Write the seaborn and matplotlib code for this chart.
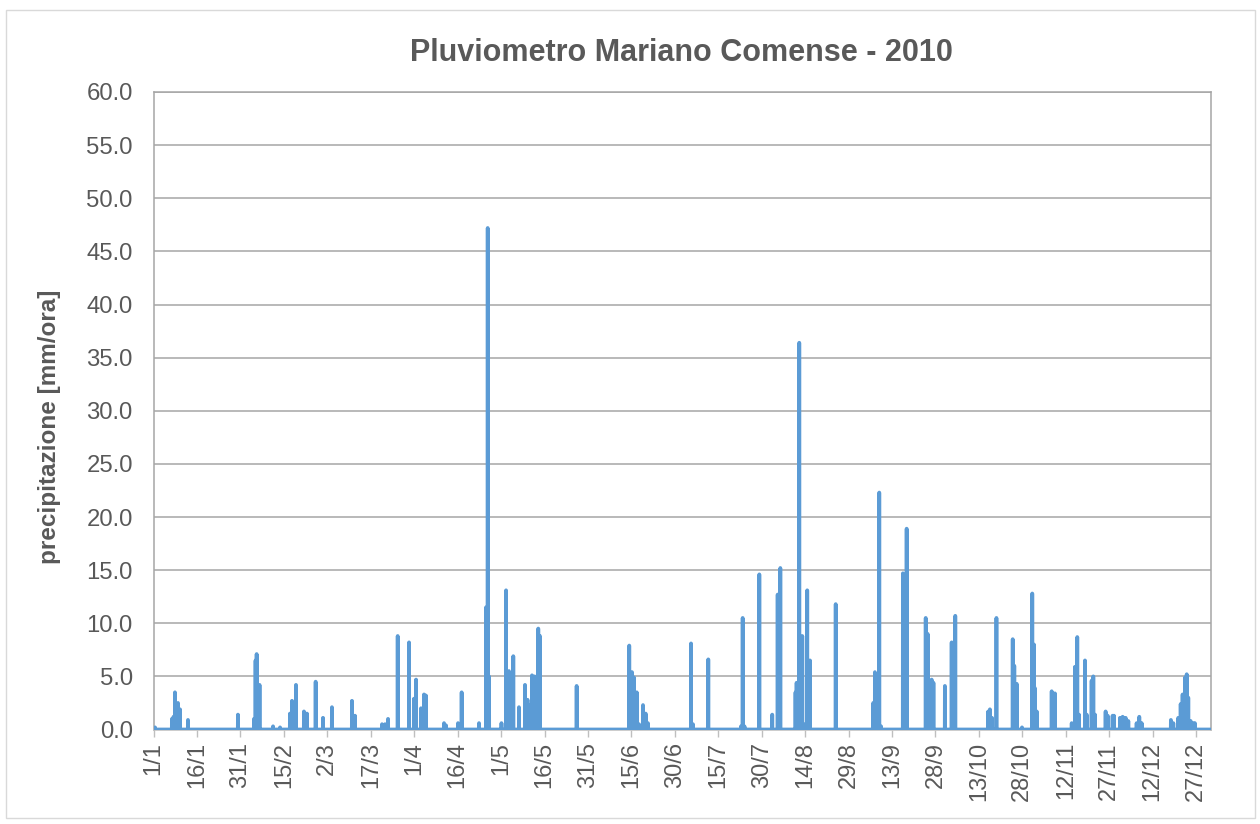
import numpy as np
import pandas as pd
import matplotlib
matplotlib.use("Agg")
import matplotlib.pyplot as plt
from matplotlib.patches import Rectangle
from matplotlib.ticker import FormatStrFormatter
import seaborn as sns

# ---- data: rain events (day of year, 0 = 1 Jan 00:00) and hourly intensity [mm/ora]
event_day = [
    0.48, 6.35, 6.87, 7.39, 8.43, 9.12, 11.88, 29.14, 34.67, 35.19, 35.60, 36.57,
    41.23, 43.65, 47.10, 47.79, 49.17, 51.93, 52.97, 55.97, 58.49, 61.60, 68.51,
    69.54, 78.87, 79.90, 80.94, 84.29, 88.19, 89.92, 90.61, 92.33, 93.37, 94.06,
    100.28, 100.97, 105.11, 106.39, 112.36, 114.78, 115.37, 115.82, 120.13,
    121.69, 122.72, 123.65, 124.21, 126.17, 128.25, 129.11, 129.97, 130.66,
    131.53, 132.84, 133.43, 146.10, 164.26, 165.19, 165.88, 166.82, 167.61,
    168.99, 169.92, 170.72, 185.57, 186.26, 191.54, 202.83, 203.42, 204.04,
    209.15, 213.64, 215.50, 216.40, 221.65, 222.06, 222.96, 224.00, 224.59,
    225.72, 226.66, 235.53, 248.52, 249.10, 250.59, 251.20, 258.76, 260.03,
    266.61, 267.30, 268.68, 269.30, 273.27, 275.59, 276.83, 288.22, 288.81,
    289.50, 291.06, 296.65, 297.20, 298.03, 299.86, 303.42, 304.01, 304.35,
    304.94, 310.12, 311.26, 317.03, 318.16, 318.96, 319.55, 321.62, 322.20,
    323.93, 324.48, 325.07, 328.76, 329.45, 331.18, 331.63, 333.70, 334.63,
    335.67, 336.57, 339.47, 340.36, 341.19, 351.31, 352.11, 353.83, 354.66,
    355.35, 356.15, 356.73, 357.29, 358.12, 359.01, 359.60,
]
event_mm = [
    0.2, 1.0, 1.2, 3.5, 2.5, 1.9, 0.9, 1.4, 1.0, 6.5, 7.1, 4.2,
    0.3, 0.2, 1.5, 2.7, 4.2, 1.7, 1.5, 4.5, 1.1, 2.1, 2.7,
    1.3, 0.5, 0.5, 1.0, 8.8, 8.2, 2.9, 4.7, 2.0, 3.3, 3.2,
    0.6, 0.4, 0.6, 3.5, 0.6, 11.5, 47.2, 5.0, 0.6,
    13.1, 5.5, 4.8, 6.9, 2.1, 4.2, 2.8, 2.3, 5.1,
    5.0, 9.5, 8.8, 4.1, 7.9, 5.4, 4.9, 3.5, 0.5,
    2.3, 1.5, 0.6, 8.1, 0.5, 6.6, 0.3, 10.5, 0.3,
    14.6, 1.4, 12.7, 15.2, 3.5, 4.4, 36.4, 8.8, 0.5,
    13.1, 6.5, 11.8, 2.5, 5.4, 22.3, 0.3, 14.7, 18.9,
    10.5, 9.0, 4.7, 4.4, 4.1, 8.2, 10.7, 1.7, 1.9,
    1.1, 10.5, 8.5, 6.0, 4.3, 0.2, 12.8, 8.0, 3.9,
    1.7, 3.6, 3.4, 0.6, 5.9, 8.7, 1.4, 6.5, 1.4,
    4.6, 5.0, 1.4, 1.7, 1.3, 1.3, 1.3, 1.1, 1.2,
    1.1, 0.8, 0.6, 1.2, 0.6, 0.9, 0.6, 1.1, 2.4,
    3.3, 4.9, 5.2, 3.0, 0.8, 0.6, 0.6,
]
tick_days = list(range(0, 361, 15))
tick_labels = ["1/1", "16/1", "31/1", "15/2", "2/3", "17/3", "1/4", "16/4", "1/5",
               "16/5", "31/5", "15/6", "30/6", "15/7", "30/7", "14/8", "29/8",
               "13/9", "28/9", "13/10", "28/10", "12/11", "27/11", "12/12", "27/12"]
title = "Pluviometro Mariano Comense - 2010"
ylabel = "precipitazione [mm/ora]"

# ---- hourly series for the year (no rain = 0)
hours_in_year = 365 * 24
precip = np.zeros(hours_in_year)
idx = np.clip(np.round(np.array(event_day) * 24).astype(int), 0, hours_in_year - 1)
precip[idx] = event_mm
df = pd.DataFrame({"day": np.arange(hours_in_year) / 24.0, "mm": precip})

# ---- styling
sns.set_theme(style="white")
plt.rcParams["font.family"] = ["Liberation Sans", "DejaVu Sans"]
text_col = "#595959"
line_col = "#5B9BD5"
grid_col = "#A6A6A6"

fig = plt.figure(figsize=(12.6, 8.24), dpi=100)
fig.patch.set_facecolor("white")
fig.patches.append(Rectangle((5.5 / 1260, 6 / 824), 1 - 11 / 1260, 1 - 16 / 824,
                             transform=fig.transFigure, fill=False,
                             edgecolor="#D9D9D9", linewidth=1.0))

ax = fig.add_axes([153.6 / 1260, 1 - 729.5 / 824, (1210.6 - 153.6) / 1260, (729.5 - 92) / 824])

sns.lineplot(data=df, x="day", y="mm", ax=ax, color=line_col, linewidth=2.7,
             estimator=None, zorder=3)

ax.set_xlim(0, 365)
ax.set_ylim(0, 60)
ax.set_yticks(np.arange(0, 60.1, 5))
ax.yaxis.set_major_formatter(FormatStrFormatter("%.1f"))
ax.set_xticks(tick_days)
ax.set_xticklabels(tick_labels, rotation=90, ha="center", va="top")
ax.grid(axis="y", color=grid_col, linewidth=1.1)
ax.grid(axis="x", visible=False)
ax.set_axisbelow(True)
ax.set_xlabel("")
ax.set_ylabel("")

ax.tick_params(axis="y", length=0, pad=15, labelsize=17.2, labelcolor=text_col)
ax.tick_params(axis="x", length=5, width=1, color="#BFBFBF", direction="out",
               pad=4, labelsize=17.0, labelcolor=text_col, bottom=True)
for side, sp in ax.spines.items():
    sp.set_color(grid_col)
    sp.set_linewidth(1.1)
ax.spines["bottom"].set_color("#BFBFBF")

fig.text(0.541, 1 - 53 / 824, title, ha="center", va="center",
         fontsize=22, fontweight="bold", color=text_col)
fig.text(50 / 1260, 1 - 427 / 824, ylabel, ha="center", va="center",
         rotation=90, fontsize=17.5, fontweight="bold", color=text_col)

fig.savefig("out.png", dpi=100, facecolor="white")
